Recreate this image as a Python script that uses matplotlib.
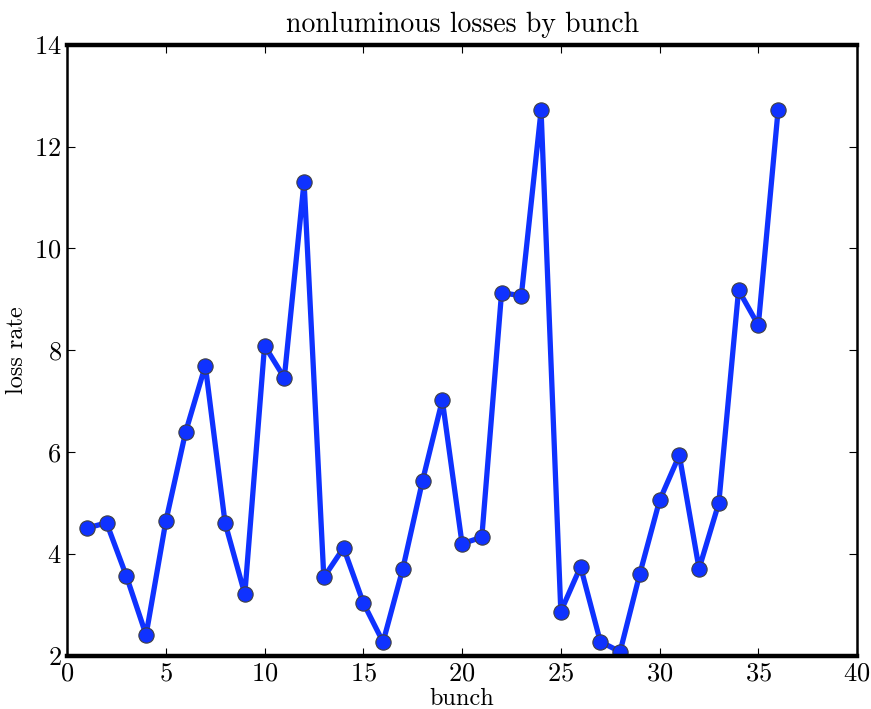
import matplotlib
matplotlib.use("Agg")
import matplotlib.pyplot as plt

bunch = list(range(1, 37))
loss_rate = [
    4.51, 4.61, 3.57, 2.41, 4.64, 6.39, 7.70, 4.61, 3.21, 8.09,
    7.46, 11.31, 3.54, 4.12, 3.04, 2.27, 3.71, 5.44, 7.02, 4.20,
    4.33, 9.13, 9.07, 12.71, 2.87, 3.75, 2.28, 2.08, 3.61, 5.05,
    5.94, 3.71, 5.00, 9.18, 8.49, 12.71,
]

plt.rcParams["font.family"] = ["cmr10", "DejaVu Serif"]
plt.rcParams["axes.formatter.use_mathtext"] = True
plt.rcParams["mathtext.fontset"] = "cm"

fig = plt.figure(figsize=(8.71, 7.09), dpi=100)
ax = fig.add_axes([0.077, 0.075, 0.907, 0.862])

ax.plot(bunch, loss_rate, color="#0f32ff", linewidth=3.8, marker="o",
        markersize=11, markerfacecolor="#0f32ff", markeredgecolor="0.25",
        markeredgewidth=0.8)

ax.set_xlim(0, 40)
ax.set_ylim(2, 14)
ax.set_xticks(range(0, 41, 5))
ax.set_yticks(range(2, 15, 2))

ax.set_title("nonluminous losses by bunch", fontsize=20, pad=9)
ax.set_xlabel("bunch", fontsize=17.5, labelpad=2)
ax.set_ylabel("loss rate", fontsize=17.5, labelpad=4)

ax.tick_params(direction="in", length=6, width=0.8, top=True, right=True,
               labelsize=19, pad=4)
for side in ("top", "bottom"):
    ax.spines[side].set_linewidth(3.2)
for side in ("left", "right"):
    ax.spines[side].set_linewidth(1.8)

fig.savefig("out.png", dpi=100)
